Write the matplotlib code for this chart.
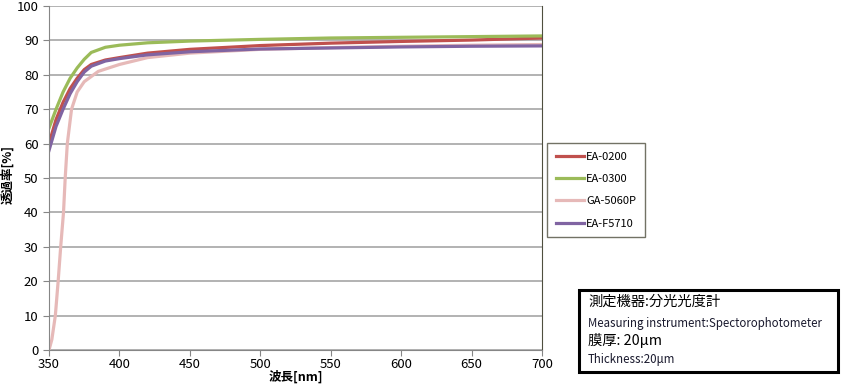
import matplotlib.pyplot as plt
from matplotlib.patches import Rectangle

plt.rcParams['font.family'] = ['Noto Sans CJK JP', 'DejaVu Sans']

# ========== Data ==========
wl_ea0200 = [350, 355, 360, 365, 370, 375, 380, 390, 400, 420, 450, 500, 550, 600, 650, 700]
tr_ea0200 = [60, 67, 72, 76, 79, 81.5, 83, 84.3, 85, 86.3, 87.4, 88.5, 89.2, 89.7, 90.1, 90.7]

wl_ea0300 = [350, 355, 360, 365, 370, 375, 380, 390, 400, 420, 450, 500, 550, 600, 650, 700]
tr_ea0300 = [64.5, 70, 75, 79, 82, 84.5, 86.5, 88, 88.6, 89.3, 89.8, 90.3, 90.7, 90.9, 91.1, 91.3]

wl_ga5060p = [350, 352, 354.5, 356.5, 358.3, 360.3, 361.5, 363, 366, 370, 375, 385, 400, 420, 450, 500, 550, 600, 650, 700]
tr_ga5060p = [0, 3, 10, 20, 30, 40, 50, 60, 70, 75, 78, 81, 83, 85, 86.3, 87.4, 87.9, 88.3, 88.6, 88.8]

wl_eaf5710 = [350, 355, 360, 365, 370, 375, 380, 390, 400, 420, 450, 500, 550, 600, 650, 700]
tr_eaf5710 = [58, 65, 70, 74.5, 78, 80.8, 82.5, 84, 84.7, 85.8, 86.7, 87.5, 87.8, 88.1, 88.3, 88.4]

x_ticks = [350, 400, 450, 500, 550, 600, 650, 700]
y_ticks = [0, 10, 20, 30, 40, 50, 60, 70, 80, 90, 100]

# ========== Figure ==========
fig = plt.figure(figsize=(8.41, 3.87), dpi=100)
ax = fig.add_axes([49 / 841, 37 / 387, 493 / 841, 344 / 387])

ax.plot(wl_ea0200, tr_ea0200, color='#C0504D', lw=2.3, label='EA-0200')
ax.plot(wl_ea0300, tr_ea0300, color='#9BBB59', lw=2.3, label='EA-0300')
ax.plot(wl_ga5060p, tr_ga5060p, color='#E6B9B8', lw=2.3, label='GA-5060P')
ax.plot(wl_eaf5710, tr_eaf5710, color='#8064A2', lw=2.3, label='EA-F5710')

ax.set_xlim(350, 700)
ax.set_ylim(0, 100)
ax.set_xticks(x_ticks)
ax.set_yticks(y_ticks)
ax.tick_params(labelsize=9.5, length=4, color='#868686', direction='out')
ax.tick_params(axis='x', pad=2)
ax.yaxis.grid(True, color='#A6A6A6', lw=1.2)
ax.set_axisbelow(True)
for side in ['left', 'bottom']:
    ax.spines[side].set_color('#868686')
ax.spines['right'].set_color('#4F4F3F')
ax.spines['top'].set_visible(False)

ax.set_xlabel('波長[nm]', fontsize=9, fontweight='bold', labelpad=-1)
ax.set_ylabel('透過率[%]', fontsize=9, fontweight='bold')
ax.yaxis.set_label_coords(-0.071, 0.51)

leg = ax.legend(loc='upper left', bbox_to_anchor=(547 / 841, 1 - 143 / 387),
                bbox_transform=fig.transFigure, fontsize=8, frameon=True,
                fancybox=False, handlelength=2.5, handletextpad=0.2,
                labelspacing=1.1, borderpad=0.8, borderaxespad=0)
leg.get_frame().set_edgecolor('#4F4F3F')
leg.get_frame().set_linewidth(1)

# Measurement info box
fig.patches.append(Rectangle((579 / 841, 1 - 372 / 387), 259 / 841, 82 / 387,
                             transform=fig.transFigure, fill=False,
                             edgecolor='black', lw=2.2))
fig.text(588 / 841, 1 - 302 / 387, '測定機器:分光光度計', fontsize=10.3, va='center')
fig.text(588 / 841, 1 - 324 / 387, 'Measuring instrument:Spectorophotometer',
         fontsize=8.3, va='center', color='#1a1a2e')
fig.text(588 / 841, 1 - 341 / 387, '膜厚: 20μm', fontsize=10.3, va='center')
fig.text(588 / 841, 1 - 359 / 387, 'Thickness:20μm', fontsize=8.3, va='center',
         color='#1a1a2e')

fig.savefig('out.png', dpi=100)
